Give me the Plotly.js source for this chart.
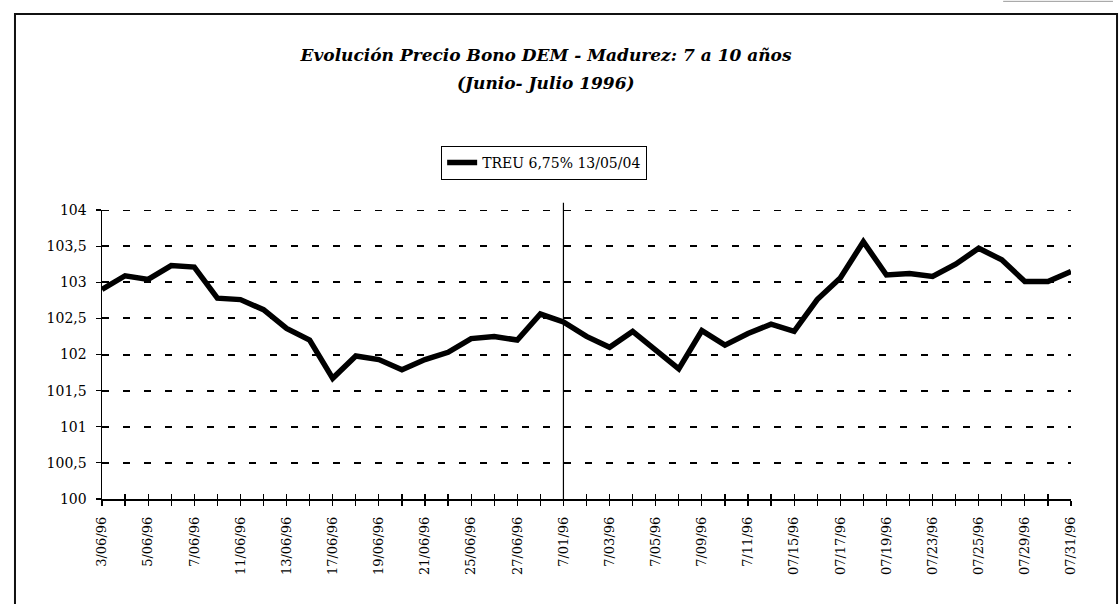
<!DOCTYPE html>
<html>
<head>
<meta charset="utf-8">
<script src="https://cdn.plot.ly/plotly-3.0.1.min.js"></script>
<style>
  html, body { margin: 0; padding: 0; background: #fff; }
  #chart { width: 1120px; height: 604px; }
</style>
</head>
<body>
<div id="chart"></div>
<script>
// Trading days, June-July 1996
const dates = [
  "3/06/96","4/06/96","5/06/96","6/06/96","7/06/96","10/06/96","11/06/96","12/06/96",
  "13/06/96","14/06/96","17/06/96","18/06/96","19/06/96","20/06/96","21/06/96","24/06/96",
  "25/06/96","26/06/96","27/06/96","28/06/96","7/01/96","7/02/96","7/03/96","7/04/96",
  "7/05/96","7/08/96","7/09/96","7/10/96","7/11/96","7/12/96","07/15/96","07/16/96",
  "07/17/96","07/18/96","07/19/96","07/22/96","07/23/96","07/24/96","07/25/96","07/26/96",
  "07/29/96","07/30/96","07/31/96"
];

// Dates that carry a printed label on the axis
const labelledDates = [
  "3/06/96","5/06/96","7/06/96","11/06/96","13/06/96","17/06/96","19/06/96","21/06/96",
  "25/06/96","27/06/96","7/01/96","7/03/96","7/05/96","7/09/96","7/11/96","07/15/96",
  "07/17/96","07/19/96","07/23/96","07/25/96","07/29/96","07/31/96"
];

// Price of TREU 6,75% 13/05/04
const prices = [
  102.90, 103.09, 103.04, 103.23, 103.21, 102.78, 102.76, 102.62,
  102.36, 102.20, 101.67, 101.98, 101.93, 101.79, 101.93, 102.03,
  102.22, 102.25, 102.20, 102.56, 102.45, 102.25, 102.10, 102.32,
  102.06, 101.80, 102.33, 102.13, 102.29, 102.42, 102.32, 102.76,
  103.06, 103.56, 103.10, 103.12, 103.08, 103.25, 103.47, 103.31,
  103.01, 103.01, 103.15
];

const seriesName = "TREU 6,75% 13/05/04";
const titleLine1 = "Evolución Precio Bono DEM - Madurez: 7 a 10 años";
const titleLine2 = "(Junio- Julio 1996)";
const monthBreak = "7/01/96";
const yTicks = [100, 100.5, 101, 101.5, 102, 102.5, 103, 103.5, 104];
const yRange = [100, 104];

const serif = "'DejaVu Serif', 'Liberation Serif', serif";
const tickText = dates.map(d => labelledDates.includes(d) ? d : "");
const lastIdx = dates.length - 1;
const gridDash = "7px,14px";

const traces = [
  {
    x: dates, y: prices, type: "scatter", mode: "lines", name: seriesName,
    line: { color: "#000", width: 5.5 }, hoverinfo: "x+y"
  },
  {
    // carries the second axis pair, which draws the inner half of each tick
    x: dates, y: prices, type: "scatter", mode: "none",
    xaxis: "x2", yaxis: "y2", showlegend: false, hoverinfo: "skip"
  }
];

const layout = {
  width: 1120, height: 604,
  paper_bgcolor: "#fff", plot_bgcolor: "#fff",
  separators: ",.",
  margin: { l: 102, r: 49, t: 210, b: 105 },
  font: { family: serif, color: "#000", size: 13 },
  title: {
    text: "<b><i>" + titleLine1 + "</i></b>",
    font: { family: serif, size: 17, color: "#000" },
    xref: "container", yref: "container",
    x: 0.4875, xanchor: "center", y: 0.909, yanchor: "middle"
  },
  annotations: [
    {
      text: "<b><i>" + titleLine2 + "</i></b>",
      xref: "paper", yref: "paper", x: 0.458, y: 1.439,
      xanchor: "center", yanchor: "middle", showarrow: false,
      font: { family: serif, size: 17, color: "#000" }
    }
  ],
  showlegend: true,
  legend: {
    x: 0.35, xanchor: "left", y: 1.2215, yanchor: "top",
    bordercolor: "#000", borderwidth: 1, bgcolor: "#fff",
    font: { family: serif, size: 14, color: "#000" },
    itemwidth: 30
  },
  xaxis: {
    type: "category", categoryarray: dates, range: [0, lastIdx],
    tickmode: "array", tickvals: dates, ticktext: tickText,
    tickangle: -90, ticks: "outside", ticklen: 5, tickwidth: 1.2, tickcolor: "#000",
    ticklabelstandoff: 6,
    showline: true, linecolor: "#000", linewidth: 1.5,
    showgrid: false, zeroline: false, fixedrange: true,
    tickfont: { family: serif, size: 13, color: "#000" }
  },
  yaxis: {
    range: yRange, tickmode: "array", tickvals: yTicks,
    ticks: "outside", ticklen: 5, tickwidth: 1.2, tickcolor: "#000",
    ticklabelstandoff: 6,
    showline: true, linecolor: "#000", linewidth: 1.5,
    showgrid: true, gridcolor: "#000", gridwidth: 2, griddash: gridDash,
    zeroline: false, fixedrange: true,
    tickfont: { family: serif, size: 14, color: "#000" }
  },
  xaxis2: {
    type: "category", categoryarray: dates, range: [0, lastIdx],
    overlaying: "x", anchor: "y2", side: "bottom",
    tickmode: "array", tickvals: dates,
    ticks: "inside", ticklen: 5, tickwidth: 1.2, tickcolor: "#000",
    showticklabels: false, showline: false, showgrid: false, zeroline: false, fixedrange: true
  },
  yaxis2: {
    range: yRange, overlaying: "y", anchor: "x2", side: "left",
    tickmode: "array", tickvals: yTicks,
    ticks: "inside", ticklen: 5, tickwidth: 1.2, tickcolor: "#000",
    showticklabels: false, showline: false, showgrid: false, zeroline: false, fixedrange: true
  },
  shapes: [
    {
      // gridline on the top edge of the plot (Plotly skips the edge one)
      type: "line", xref: "paper", yref: "y",
      x0: 0, x1: 1, y0: yRange[1], y1: yRange[1],
      line: { color: "#000", width: 2, dash: gridDash }, layer: "below"
    },
    {
      // separator between June and July
      type: "line", xref: "x", yref: "paper",
      x0: monthBreak, x1: monthBreak, y0: 0, y1: 1.025,
      line: { color: "#000", width: 1.2 }
    },
    {
      // page frame around the whole figure
      type: "rect", xref: "paper", yref: "paper",
      x0: -0.0898, x1: 1.0475, y0: -0.42, y1: 1.678,
      line: { color: "#111", width: 2 }, layer: "below"
    },
    {
      type: "line", xref: "paper", yref: "paper",
      x0: 0.93, x1: 1.0433, y0: 1.722, y1: 1.722,
      line: { color: "#999", width: 1 }
    }
  ]
};

Plotly.newPlot("chart", traces, layout, { displayModeBar: false, staticPlot: true });
</script>
</body>
</html>
